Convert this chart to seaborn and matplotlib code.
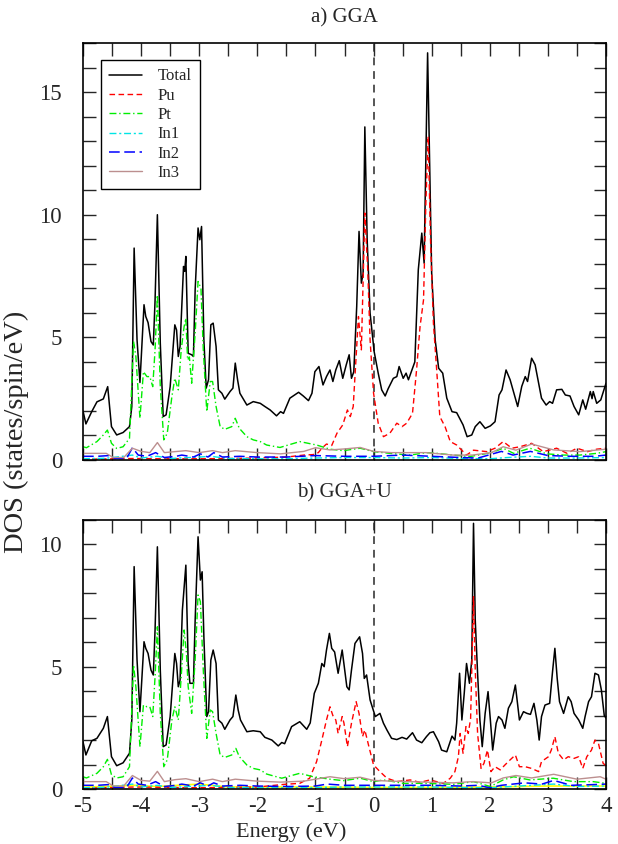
import numpy as np
import seaborn as sns
import matplotlib.pyplot as plt
from matplotlib.ticker import MultipleLocator

# ---- panel a) GGA : (energy eV, DOS) ----
a_total = [(-5.0, 2.0), (-4.95, 1.47), (-4.85, 1.97), (-4.76, 2.37), (-4.65, 2.49), (-4.575, 2.99),
           (-4.51, 1.36), (-4.42, 1.02), (-4.31, 1.12), (-4.20, 1.36), (-4.16, 2.18), (-4.12, 8.64),
           (-4.07, 4.9), (-4.02, 3.16), (-3.95, 6.33), (-3.92, 5.85), (-3.88, 5.6), (-3.83, 4.83),
           (-3.79, 4.69), (-3.76, 6.5), (-3.72, 10.0), (-3.67, 4.76), (-3.62, 1.77), (-3.57, 1.84),
           (-3.50, 2.99), (-3.42, 5.51), (-3.39, 5.3), (-3.36, 4.22), (-3.33, 4.63), (-3.27, 7.89),
           (-3.25, 7.69), (-3.23, 8.3), (-3.19, 4.35), (-3.13, 4.29), (-3.10, 4.22), (-3.07, 6.94),
           (-3.02, 9.46), (-2.99, 8.98), (-2.96, 9.52), (-2.92, 4.9), (-2.88, 2.93), (-2.84, 3.27),
           (-2.80, 5.51), (-2.76, 5.58), (-2.71, 4.63), (-2.67, 2.86), (-2.61, 2.72), (-2.56, 2.48),
           (-2.47, 2.79), (-2.42, 2.93), (-2.38, 3.95), (-2.34, 3.27), (-2.30, 2.72), (-2.18, 2.24),
           (-2.07, 2.38), (-1.95, 2.31), (-1.87, 2.18), (-1.78, 2.04), (-1.67, 1.8), (-1.60, 1.97),
           (-1.55, 1.9), (-1.44, 2.52), (-1.29, 2.76), (-1.21, 2.61), (-1.12, 2.42), (-1.06, 2.72),
           (-1.01, 3.6), (-0.94, 3.81), (-0.87, 3.06), (-0.81, 3.4), (-0.75, 3.67), (-0.70, 3.2),
           (-0.65, 3.67), (-0.59, 4.05), (-0.53, 3.33), (-0.47, 3.88), (-0.42, 4.29), (-0.38, 3.33),
           (-0.34, 3.6), (-0.29, 6.26), (-0.25, 9.32), (-0.21, 7.21), (-0.18, 7.6), (-0.15, 13.58),
           (-0.11, 8.98), (-0.06, 5.99), (0.01, 4.42), (0.08, 3.54), (0.14, 2.86), (0.20, 2.61),
           (0.25, 2.9), (0.34, 3.33), (0.40, 3.4), (0.44, 3.81), (0.51, 3.33), (0.56, 3.54),
           (0.60, 3.27), (0.66, 3.67), (0.71, 4.0), (0.77, 7.76), (0.83, 9.25), (0.87, 8.03),
           (0.93, 16.6), (1.00, 7.62), (1.06, 4.9), (1.12, 3.74), (1.19, 3.54), (1.26, 2.52),
           (1.35, 1.97), (1.43, 1.93), (1.54, 1.43), (1.61, 0.95), (1.69, 1.02), (1.75, 1.36),
           (1.83, 1.56), (1.92, 1.29), (2.01, 1.39), (2.09, 1.56), (2.16, 2.65), (2.21, 2.86),
           (2.28, 3.67), (2.35, 3.27), (2.48, 2.18), (2.55, 3.0), (2.61, 3.4), (2.65, 3.2),
           (2.72, 4.15), (2.78, 3.88), (2.89, 2.52), (2.97, 2.24), (3.03, 2.38), (3.08, 2.31),
           (3.15, 2.86), (3.24, 2.88), (3.30, 2.65), (3.38, 2.61), (3.45, 2.18), (3.53, 1.84),
           (3.60, 2.45), (3.65, 2.07), (3.73, 2.79), (3.76, 2.5), (3.78, 2.79), (3.84, 2.31),
           (3.91, 2.45), (4.0, 3.13)]

a_pu = [(-5.0, 0.03), (-4.12, 0.06), (-3.72, 0.05), (-3.0, 0.05), (-2.5, 0.06), (-2.0, 0.08),
        (-1.5, 0.12), (-1.2, 0.2), (-1.04, 0.22), (-0.95, 0.3), (-0.89, 0.48), (-0.81, 0.65),
        (-0.72, 0.59), (-0.63, 1.09), (-0.53, 1.43), (-0.45, 2.04), (-0.40, 1.77), (-0.35, 2.18),
        (-0.30, 4.22), (-0.26, 5.85), (-0.21, 4.49), (-0.15, 10.07), (-0.10, 7.76), (-0.06, 4.9),
        (0.0, 2.72), (0.08, 1.5), (0.17, 0.95), (0.28, 1.09), (0.40, 1.5), (0.49, 1.36),
        (0.57, 1.5), (0.67, 1.9), (0.74, 3.67), (0.80, 5.44), (0.86, 6.53), (0.90, 10.48),
        (0.94, 13.2), (0.98, 8.98), (1.03, 5.58), (1.09, 3.54), (1.14, 1.77), (1.23, 1.36),
        (1.32, 0.75), (1.43, 0.61), (1.60, 0.2), (1.72, 0.4), (1.95, 0.34), (2.09, 0.48),
        (2.23, 0.75), (2.38, 0.48), (2.52, 0.54), (2.72, 0.68), (2.92, 0.34), (3.15, 0.48),
        (3.33, 0.27), (3.50, 0.48), (3.68, 0.34), (3.84, 0.44), (4.0, 0.48)]

a_pt = [(-5.0, 0.54), (-4.94, 0.5), (-4.76, 0.75), (-4.65, 1.02), (-4.58, 1.22), (-4.51, 0.68),
        (-4.42, 0.47), (-4.31, 0.54), (-4.20, 0.88), (-4.13, 4.83), (-4.09, 4.22), (-4.02, 1.7),
        (-3.96, 3.6), (-3.90, 3.4), (-3.85, 3.4), (-3.80, 2.99), (-3.76, 4.49), (-3.72, 6.73),
        (-3.67, 2.99), (-3.61, 0.82), (-3.55, 1.09), (-3.47, 2.59), (-3.42, 3.33), (-3.36, 2.86),
        (-3.31, 4.49), (-3.26, 5.44), (-3.23, 5.78), (-3.20, 4.08), (-3.17, 4.2), (-3.13, 3.13),
        (-3.07, 5.17), (-3.02, 7.28), (-2.97, 7.0), (-2.93, 4.49), (-2.87, 1.97), (-2.81, 3.2),
        (-2.77, 3.2), (-2.71, 2.18), (-2.64, 1.36), (-2.56, 1.25), (-2.44, 1.36), (-2.38, 1.7),
        (-2.31, 1.29), (-2.18, 0.95), (-2.07, 0.82), (-1.95, 0.75), (-1.84, 0.61), (-1.61, 0.51),
        (-1.27, 0.75), (-0.98, 0.61), (-0.75, 0.44), (-0.52, 0.38), (-0.23, 0.48), (0.0, 0.34),
        (0.28, 0.27), (0.63, 0.2), (0.91, 0.3), (1.09, 0.27), (1.37, 0.2), (1.66, 0.14),
        (2.03, 0.3), (2.23, 0.48), (2.41, 0.27), (2.69, 0.48), (2.98, 0.25), (3.27, 0.2),
        (3.55, 0.2), (3.84, 0.27), (4.0, 0.34)]

a_in1 = [(-5.0, 0.05), (-4.6, 0.07), (-4.15, 0.2), (-4.0, 0.08), (-3.72, 0.15), (-3.5, 0.06),
         (-3.0, 0.12), (-2.8, 0.15), (-2.5, 0.06), (-2.0, 0.05), (-1.5, 0.05), (-1.0, 0.08),
         (-0.5, 0.1), (0.0, 0.1), (0.5, 0.08), (1.0, 0.1), (1.5, 0.06), (2.0, 0.05), (2.3, 0.1),
         (2.7, 0.15), (3.0, 0.08), (3.5, 0.08), (4.0, 0.1)]

a_in2 = [(-5.0, 0.15), (-4.75, 0.15), (-4.55, 0.18), (-4.45, 0.06), (-4.25, 0.06), (-4.15, 0.5),
         (-4.05, 0.2), (-3.9, 0.15), (-3.75, 0.3), (-3.6, 0.1), (-3.4, 0.15), (-3.3, 0.2),
         (-3.1, 0.12), (-2.98, 0.25), (-2.85, 0.12), (-2.75, 0.3), (-2.6, 0.12), (-2.3, 0.15),
         (-2.0, 0.12), (-1.5, 0.12), (-1.0, 0.18), (-0.5, 0.15), (0.0, 0.15), (0.5, 0.2),
         (1.0, 0.15), (1.5, 0.1), (1.8, 0.08), (2.2, 0.35), (2.4, 0.2), (2.7, 0.35), (3.0, 0.18),
         (3.4, 0.15), (3.8, 0.15), (4.0, 0.2)]

a_in3 = [(-5.0, 0.27), (-4.6, 0.27), (-4.48, 0.1), (-4.3, 0.1), (-4.15, 0.48), (-4.0, 0.35),
         (-3.85, 0.3), (-3.72, 0.71), (-3.6, 0.3), (-3.42, 0.34), (-3.23, 0.38), (-3.0, 0.3),
         (-2.77, 0.38), (-2.6, 0.3), (-2.38, 0.38), (-2.0, 0.3), (-1.6, 0.25), (-1.2, 0.35),
         (-1.0, 0.5), (-0.75, 0.41), (-0.5, 0.45), (-0.23, 0.51), (0.0, 0.35), (0.3, 0.3),
         (0.9, 0.3), (1.37, 0.2), (1.7, 0.2), (2.03, 0.3), (2.23, 0.54), (2.45, 0.4),
         (2.72, 0.65), (3.1, 0.41), (3.55, 0.34), (4.0, 0.44)]

# ---- panel b) GGA+U ----
b_total = [(-5.0, 1.93), (-4.95, 1.39), (-4.85, 1.97), (-4.76, 2.07), (-4.65, 2.48), (-4.58, 2.96),
           (-4.51, 1.32), (-4.42, 0.95), (-4.31, 1.07), (-4.20, 1.46), (-4.16, 2.82), (-4.12, 9.09),
           (-4.07, 5.27), (-4.02, 3.16), (-3.95, 6.02), (-3.92, 5.75), (-3.88, 5.54), (-3.83, 4.86),
           (-3.79, 4.66), (-3.76, 6.5), (-3.72, 9.9), (-3.67, 4.86), (-3.62, 1.73), (-3.57, 1.8),
           (-3.50, 2.96), (-3.42, 5.54), (-3.39, 5.13), (-3.36, 4.18), (-3.33, 4.45), (-3.29, 7.31),
           (-3.23, 9.15), (-3.19, 5.13), (-3.16, 4.32), (-3.10, 4.32), (-3.07, 6.9), (-3.02, 10.31),
           (-2.98, 8.54), (-2.95, 8.88), (-2.92, 6.22), (-2.87, 2.96), (-2.84, 3.16), (-2.80, 5.27),
           (-2.76, 5.68), (-2.71, 5.13), (-2.67, 2.82), (-2.61, 2.69), (-2.56, 2.44), (-2.47, 2.82),
           (-2.42, 2.96), (-2.37, 3.84), (-2.33, 3.23), (-2.29, 2.82), (-2.18, 2.34), (-2.07, 2.38),
           (-1.95, 2.34), (-1.87, 2.11), (-1.75, 2.0), (-1.64, 1.76), (-1.58, 1.9), (-1.53, 1.85),
           (-1.41, 2.55), (-1.27, 2.75), (-1.15, 2.44), (-1.09, 2.7), (-1.02, 3.91), (-0.95, 4.32),
           (-0.89, 5.13), (-0.85, 5.0), (-0.81, 5.68), (-0.76, 6.36), (-0.72, 5.75), (-0.67, 5.6),
           (-0.61, 4.73), (-0.54, 5.68), (-0.46, 4.18), (-0.42, 4.05), (-0.38, 4.86), (-0.32, 5.95),
           (-0.24, 6.22), (-0.19, 5.54), (-0.16, 4.52), (-0.12, 4.66), (-0.06, 3.64), (0.03, 2.96),
           (0.11, 3.09), (0.17, 2.69), (0.23, 2.41), (0.31, 2.07), (0.40, 2.02), (0.49, 2.11),
           (0.57, 2.04), (0.67, 2.3), (0.74, 2.0), (0.83, 1.89), (0.91, 2.14), (0.97, 2.3),
           (1.03, 2.34), (1.12, 1.93), (1.17, 1.59), (1.26, 1.52), (1.35, 2.16), (1.40, 2.0),
           (1.43, 2.69), (1.48, 4.73), (1.52, 2.82), (1.56, 3.9), (1.60, 5.13), (1.65, 4.32),
           (1.69, 5.27), (1.72, 10.86), (1.75, 6.9), (1.79, 4.73), (1.83, 2.82), (1.87, 1.73),
           (1.92, 3.09), (1.97, 3.98), (2.01, 2.82), (2.05, 1.59), (2.11, 2.69), (2.15, 2.96),
           (2.21, 2.82), (2.26, 2.48), (2.32, 3.3), (2.38, 3.57), (2.44, 4.25), (2.51, 2.82),
           (2.58, 3.16), (2.64, 3.09), (2.70, 3.05), (2.76, 3.5), (2.81, 2.82), (2.85, 2.0),
           (2.89, 2.96), (2.95, 3.43), (3.03, 3.5), (3.08, 4.8), (3.12, 5.75), (3.16, 4.52),
           (3.20, 3.57), (3.27, 3.09), (3.35, 3.77), (3.40, 3.57), (3.45, 3.09), (3.53, 2.82),
           (3.60, 2.48), (3.64, 2.96), (3.70, 3.57), (3.75, 3.77), (3.81, 4.73), (3.87, 4.66),
           (3.92, 4.05), (3.97, 3.0), (4.0, 2.9)]

b_pu = [(-5.0, 0.03), (-4.12, 0.08), (-3.0, 0.05), (-2.0, 0.08), (-1.53, 0.19), (-1.27, 0.23),
        (-1.1, 0.44), (-0.98, 1.12), (-0.89, 2.0), (-0.81, 2.82), (-0.75, 3.36), (-0.70, 3.0),
        (-0.65, 2.82), (-0.61, 2.27), (-0.54, 2.96), (-0.51, 2.7), (-0.45, 1.73), (-0.38, 2.69),
        (-0.30, 3.57), (-0.25, 3.09), (-0.19, 2.14), (-0.15, 2.41), (-0.08, 1.73), (0.0, 0.98),
        (0.11, 0.71), (0.23, 0.44), (0.40, 0.3), (0.63, 0.37), (0.80, 0.27), (0.97, 0.37),
        (1.20, 0.23), (1.32, 0.44), (1.40, 0.71), (1.46, 1.32), (1.49, 2.27), (1.54, 1.46),
        (1.59, 2.55), (1.63, 2.27), (1.67, 2.88), (1.72, 7.86), (1.75, 4.86), (1.79, 2.27),
        (1.85, 0.84), (1.90, 1.05), (1.96, 1.59), (2.02, 0.71), (2.09, 0.91), (2.18, 0.78),
        (2.26, 0.98), (2.35, 1.19), (2.44, 1.39), (2.51, 0.91), (2.61, 0.91), (2.72, 0.84),
        (2.84, 0.71), (2.89, 1.12), (3.01, 1.32), (3.06, 1.6), (3.12, 2.14), (3.18, 1.46),
        (3.27, 1.19), (3.35, 1.32), (3.45, 1.25), (3.53, 1.32), (3.60, 0.84), (3.67, 1.32),
        (3.75, 1.59), (3.81, 2.0), (3.87, 1.86), (3.95, 1.05), (4.0, 0.95)]

b_pt = [(-5.0, 0.5), (-4.94, 0.45), (-4.76, 0.64), (-4.65, 0.91), (-4.58, 1.21), (-4.51, 0.58),
        (-4.42, 0.45), (-4.31, 0.5), (-4.20, 0.91), (-4.13, 5.07), (-4.09, 4.18), (-4.02, 1.73),
        (-3.96, 3.43), (-3.90, 3.36), (-3.85, 3.36), (-3.80, 2.96), (-3.76, 4.59), (-3.72, 6.63),
        (-3.67, 3.09), (-3.61, 0.91), (-3.55, 1.19), (-3.47, 2.82), (-3.42, 3.36), (-3.36, 2.82),
        (-3.31, 4.59), (-3.26, 6.5), (-3.22, 5.54), (-3.19, 4.18), (-3.13, 3.09), (-3.07, 5.27),
        (-3.02, 7.93), (-2.98, 7.66), (-2.93, 4.86), (-2.87, 2.07), (-2.81, 3.23), (-2.77, 3.16),
        (-2.71, 2.27), (-2.64, 1.39), (-2.56, 1.29), (-2.44, 1.39), (-2.37, 1.66), (-2.31, 1.32),
        (-2.18, 0.98), (-2.07, 0.84), (-1.95, 0.78), (-1.84, 0.61), (-1.58, 0.44), (-1.27, 0.64),
        (-1.04, 0.5), (-0.75, 0.4), (-0.52, 0.34), (-0.23, 0.44), (0.0, 0.3), (0.17, 0.37),
        (0.51, 0.23), (0.91, 0.23), (1.37, 0.19), (1.72, 0.3), (2.01, 0.1), (2.23, 0.37),
        (2.41, 0.5), (2.69, 0.37), (3.09, 0.44), (3.44, 0.3), (3.78, 0.3), (4.0, 0.23)]

b_in1 = [(-5.0, 0.05), (-4.6, 0.07), (-4.15, 0.2), (-4.0, 0.08), (-3.72, 0.15), (-3.5, 0.06),
         (-3.0, 0.12), (-2.8, 0.15), (-2.5, 0.06), (-2.0, 0.05), (-1.5, 0.05), (-1.0, 0.06),
         (-0.5, 0.08), (0.0, 0.08), (0.5, 0.08), (1.0, 0.08), (1.5, 0.06), (2.0, 0.05),
         (2.5, 0.12), (3.1, 0.2), (3.5, 0.1), (4.0, 0.12)]

b_in2 = [(-5.0, 0.15), (-4.75, 0.15), (-4.55, 0.18), (-4.45, 0.06), (-4.25, 0.06), (-4.15, 0.45),
         (-4.05, 0.2), (-3.9, 0.15), (-3.75, 0.3), (-3.6, 0.1), (-3.4, 0.15), (-3.3, 0.2),
         (-3.1, 0.12), (-2.98, 0.25), (-2.85, 0.12), (-2.75, 0.25), (-2.6, 0.12), (-2.3, 0.15),
         (-2.0, 0.12), (-1.5, 0.1), (-1.0, 0.12), (-0.8, 0.2), (-0.5, 0.15), (0.0, 0.15),
         (0.5, 0.15), (1.0, 0.15), (1.5, 0.12), (1.8, 0.15), (2.0, 0.05), (2.2, 0.15),
         (2.6, 0.25), (2.9, 0.2), (3.1, 0.35), (3.4, 0.15), (3.8, 0.18), (4.0, 0.2)]

b_in3 = [(-5.0, 0.3), (-4.6, 0.3), (-4.48, 0.12), (-4.3, 0.12), (-4.15, 0.55), (-4.0, 0.35),
         (-3.85, 0.32), (-3.72, 0.72), (-3.6, 0.3), (-3.42, 0.38), (-3.23, 0.42), (-3.0, 0.3),
         (-2.77, 0.4), (-2.6, 0.3), (-2.38, 0.4), (-2.0, 0.32), (-1.6, 0.28), (-1.2, 0.32),
         (-1.0, 0.4), (-0.75, 0.5), (-0.5, 0.42), (-0.23, 0.48), (0.0, 0.35), (0.3, 0.32),
         (0.9, 0.28), (1.37, 0.25), (1.7, 0.3), (2.03, 0.25), (2.23, 0.45), (2.45, 0.55),
         (2.72, 0.45), (3.1, 0.6), (3.5, 0.4), (3.9, 0.5), (4.0, 0.4)]

# extra (unlabelled) yellow curve only present in panel b
b_other = [(-5.0, 0.07), (-4.12, 0.15), (-3.72, 0.1), (-3.0, 0.2), (-2.5, 0.08), (-1.0, 0.08),
           (0.0, 0.06), (1.0, 0.06), (2.0, 0.08), (3.0, 0.12), (4.0, 0.12)]

LABELS = ['Total', 'Pu', 'Pt', 'In1', 'In2', 'In3']
STYLES = {
    'Total': dict(color='black', linestyle='-', linewidth=1.1),
    'Pu': dict(color='red', linestyle=(0, (4, 2.5)), linewidth=1.0),
    'Pt': dict(color='#00ee00', linestyle=(0, (5, 2, 1, 2)), linewidth=1.0),
    'In1': dict(color='#00e5e5', linestyle=(0, (5, 2, 1.5, 2)), linewidth=1.0),
    'In2': dict(color='blue', linestyle=(0, (7, 3)), linewidth=1.1),
    'In3': dict(color='#bc8f8f', linestyle='-', linewidth=1.0),
}
TICK_FS = 16.5
LABEL_FS = 16

sns.set_style("ticks")
plt.rcParams['font.family'] = ['Liberation Serif', 'DejaVu Serif']
plt.rcParams['axes.unicode_minus'] = False


def draw(ax, pts, label=None, **kw):
    e, d = np.array(pts).T
    if label is not None:
        kw['label'] = label
    sns.lineplot(x=e, y=d, ax=ax, sort=False, estimator=None, **kw)


def style_axes(ax, ymax, ymajor):
    ax.set_xlim(-5, 4)
    ax.set_ylim(0, ymax)
    ax.xaxis.set_major_locator(MultipleLocator(1))
    ax.xaxis.set_minor_locator(MultipleLocator(0.5))
    ax.yaxis.set_major_locator(MultipleLocator(ymajor))
    ax.yaxis.set_minor_locator(MultipleLocator(1))
    ax.tick_params(which='both', direction='in', top=True, right=True,
                   length=9, width=1.0, labelsize=TICK_FS)
    ax.tick_params(axis='x', pad=5)
    ax.tick_params(axis='y', pad=15)
    for sp in ax.spines.values():
        sp.set_linewidth(1.2)
        sp.set_color('black')
    ax.axvline(0, color='#555555', linestyle=(0, (4, 3)), linewidth=1.4, zorder=0.5)


fig = plt.figure(figsize=(6.18, 8.44), dpi=100)
ax_a = fig.add_axes([0.1343, 0.455, 0.8463, 0.494])
ax_b = fig.add_axes([0.1343, 0.0652, 0.8463, 0.3188])

for name, pts in zip(LABELS, [a_total, a_pu, a_pt, a_in1, a_in2, a_in3]):
    draw(ax_a, pts, label=name, **STYLES[name])

draw(ax_b, b_other, color='#ffff00', linestyle='-', linewidth=1.2)
for name, pts in zip(LABELS, [b_total, b_pu, b_pt, b_in1, b_in2, b_in3]):
    draw(ax_b, pts, **STYLES[name])

style_axes(ax_a, 17, 5)
style_axes(ax_b, 11, 5)
ax_a.set_xticklabels([])

leg = ax_a.legend(loc='upper left', bbox_to_anchor=(0.034, 0.959), borderaxespad=0,
                  fontsize=12, frameon=True, fancybox=False, framealpha=1,
                  handlelength=2.0, handletextpad=0.9, labelspacing=0.2, borderpad=0.5)
leg.get_frame().set_edgecolor('black')
leg.get_frame().set_linewidth(1.0)

fig.text(0.5574, 0.9787, 'a) GGA', ha='center', va='center', fontsize=15)
fig.text(0.5574, 0.4159, 'b) GGA+U', ha='center', va='center', fontsize=15)
fig.text(0.471, 0.0145, 'Energy (eV)', ha='center', va='center', fontsize=LABEL_FS)
fig.text(0.026, 0.488, 'DOS (states/spin/eV)', ha='center', va='center',
         rotation=90, fontsize=20.5)

fig.savefig('out.png', dpi=100)
